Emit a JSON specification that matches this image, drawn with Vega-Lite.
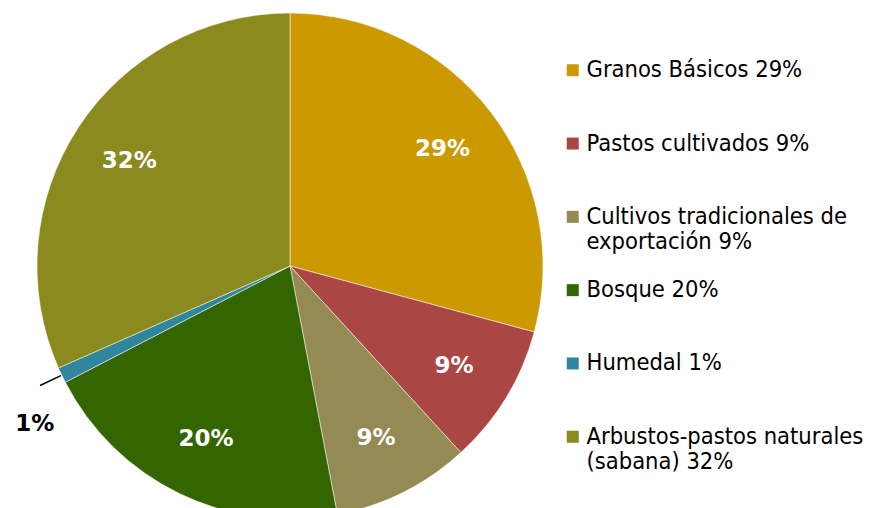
{
  "$schema": "https://vega.github.io/schema/vega-lite/v6.json",
  "autosize": {"type": "none"},
  "width": 580,
  "height": 532,
  "padding": {"left": 0, "top": 0, "right": 289, "bottom": -24},
  "background": "white",
  "config": {"view": {"stroke": null}},
  "data": {
    "values": [
      {"categoria": "Granos Básicos 29%", "orden": 1, "porcentaje": 0.292},
      {"categoria": "Pastos cultivados 9%", "orden": 2, "porcentaje": 0.090},
      {"categoria": "Cultivos tradicionales de exportación 9%", "orden": 3, "porcentaje": 0.088},
      {"categoria": "Bosque 20%", "orden": 4, "porcentaje": 0.204},
      {"categoria": "Humedal 1%", "orden": 5, "porcentaje": 0.010},
      {"categoria": "Arbustos-pastos naturales (sabana) 32%", "orden": 6, "porcentaje": 0.316}
    ]
  },
  "encoding": {
    "theta": {"field": "porcentaje", "type": "quantitative", "stack": true},
    "order": {"field": "orden", "type": "quantitative", "sort": "ascending"}
  },
  "layer": [
    {
      "mark": {"type": "arc", "radius": 253, "stroke": "white", "strokeWidth": 1, "strokeOpacity": 0.5},
      "encoding": {
        "color": {
          "field": "categoria",
          "type": "nominal",
          "scale": {
            "domain": ["Granos Básicos 29%", "Pastos cultivados 9%", "Cultivos tradicionales de exportación 9%", "Bosque 20%", "Humedal 1%", "Arbustos-pastos naturales (sabana) 32%"],
            "range": ["#CC9900", "#AA4744", "#948A54", "#336600", "#31859C", "#8A8A1E"]
          },
          "legend": {
            "title": null,
            "orient": "none",
            "legendX": 561,
            "legendY": 58.5,
            "padding": 0,
            "symbolType": "square",
            "symbolSize": 144,
            "symbolStrokeWidth": 0,
            "labelFont": "DejaVu Sans Condensed",
            "labelFontSize": 23.5,
            "labelColor": "#000000",
            "labelLimit": 400,
            "labelOffset": 2,
            "rowPadding": 23.3,
            "labelBaseline": "middle",
            "labelExpr": "datum.label === 'Cultivos tradicionales de exportación 9%' ? ['Cultivos tradicionales de', 'exportación 9%'] : datum.label === 'Arbustos-pastos naturales (sabana) 32%' ? ['Arbustos-pastos naturales', '(sabana) 32%'] : [datum.label, '']",
            "encode": {"labels": {"update": {"lineHeight": {"value": 28}}}}
          }
        }
      }
    },
    {
      "mark": {"type": "arc", "radius": 277, "radius2": 254, "padAngle": 0.1, "fillOpacity": 0, "stroke": "black", "strokeWidth": 1.5},
      "encoding": {
        "detail": {"field": "categoria", "type": "nominal"},
        "strokeOpacity": {"condition": {"test": "datum.categoria === 'Humedal 1%'", "value": 1}, "value": 0}
      }
    },
    {
      "mark": {"type": "text", "radius": 192, "font": "DejaVu Sans", "fontWeight": "bold", "fontSize": 23, "fill": "white"},
      "encoding": {
        "detail": {"field": "categoria", "type": "nominal"},
        "text": {"field": "porcentaje", "type": "quantitative", "format": ".0%"},
        "opacity": {"condition": {"test": "datum.categoria === 'Humedal 1%'", "value": 0}, "value": 1}
      }
    },
    {
      "mark": {"type": "text", "radius": 283, "dy": 36, "font": "DejaVu Sans", "fontWeight": "bold", "fontSize": 23, "fill": "black"},
      "encoding": {
        "detail": {"field": "categoria", "type": "nominal"},
        "text": {"field": "porcentaje", "type": "quantitative", "format": ".0%"},
        "opacity": {"condition": {"test": "datum.categoria === 'Humedal 1%'", "value": 1}, "value": 0}
      }
    }
  ]
}
